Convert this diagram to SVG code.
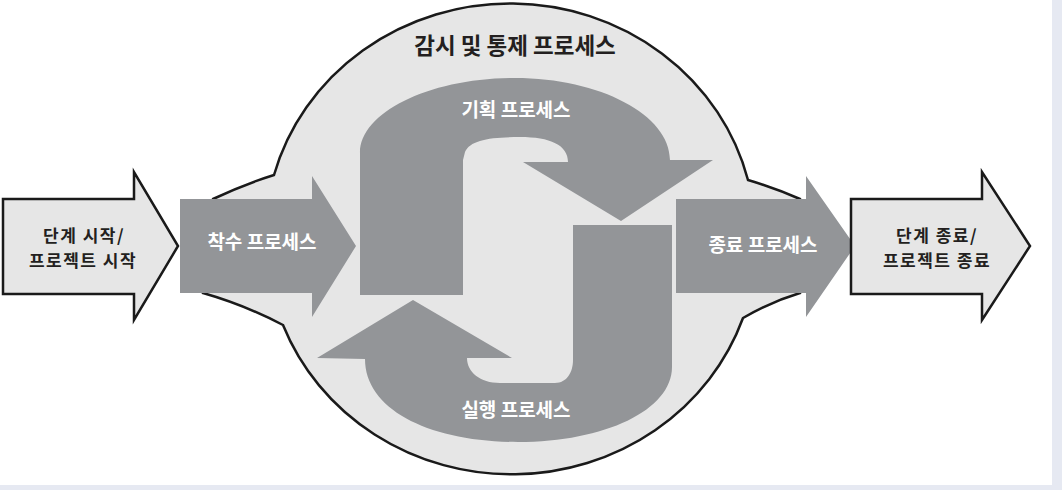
<svg xmlns="http://www.w3.org/2000/svg" width="1062" height="490" viewBox="0 0 1062 490">
  <style>
    .light { fill: #e6e6e6; stroke: #1a1a1a; stroke-width: 2.5; stroke-linejoin: miter; }
    .dark { fill: #939598; stroke: none; }
    .t { font-family: "Noto Sans CJK KR", "Noto Sans", sans-serif; font-weight: bold; text-anchor: middle; }
    .tb { fill: #231f20; font-size: 17px; letter-spacing: 1.5px; }
    .tw { fill: #ffffff; font-size: 19px; }
    .title { fill: #231f20; font-size: 22.5px; }
  </style>
  <rect x="0" y="0" width="1062" height="490" fill="#e6e9f2"/>
  <rect x="0" y="0" width="1052" height="485" fill="#ffffff"/>

  <g id="monitoring-controlling">
    <path class="light" d="M 213 199 Q 245 184 274 175 A 245 233 0 0 1 748 180 Q 775 188 800 199 L 800 293 Q 770 302 743 318 A 245 233 0 0 1 283 325 Q 245 305 203 293 Z"/>
    <text class="t title" x="515" y="54">감시 및 통제 프로세스</text>
  </g>

  <g id="phase-start">
    <path class="light" d="M 3 199 L 134 199 L 134 172 L 178 246 L 134 320 L 134 294 L 3 294 Z"/>
    <text class="t tb" x="84" y="242">단계 시작/</text>
    <text class="t tb" x="83" y="267">프로젝트 시작</text>
  </g>

  <g id="initiating">
    <path class="dark" d="M 180 199 L 312 199 L 312 176 L 356 246 L 312 317 L 312 293 L 180 293 Z"/>
    <text class="t tw" x="262" y="249">착수 프로세스</text>
  </g>

  <g id="planning">
    <path class="dark" d="M 360 295 L 360 153 C 360 112 430 78 515 78 C 600 78 670 115 670 160 L 713 160 L 621 221 L 523 162 L 568 162 C 568 145 550 137 520 137 C 490 137 470 140 465 152 L 463 160 L 463 295 Z"/>
    <text class="t tw" x="516" y="117">기획 프로세스</text>
  </g>

  <g id="executing">
    <path class="dark" d="M 573 225 L 672 225 L 672 367 C 672 410 605 442 518 442 C 430 442 365 410 365 359 L 317 358 L 413 300 L 512 358 L 467 358 C 467 372 480 383 500 383 L 555 383 C 567 383 573 372 573 360 Z"/>
    <text class="t tw" x="516" y="417">실행 프로세스</text>
  </g>

  <g id="closing">
    <path class="dark" d="M 676 199 L 806 199 L 806 176 L 855 246 L 806 317 L 806 293 L 676 293 Z"/>
    <text class="t tw" x="763" y="252">종료 프로세스</text>
  </g>

  <g id="phase-end">
    <path class="light" d="M 851 199 L 982 199 L 982 172 L 1030 246 L 982 320 L 982 294 L 851 294 Z"/>
    <text class="t tb" x="937" y="242">단계 종료/</text>
    <text class="t tb" x="937" y="267">프로젝트 종료</text>
  </g>

  <g id="connectors"></g>
</svg>
